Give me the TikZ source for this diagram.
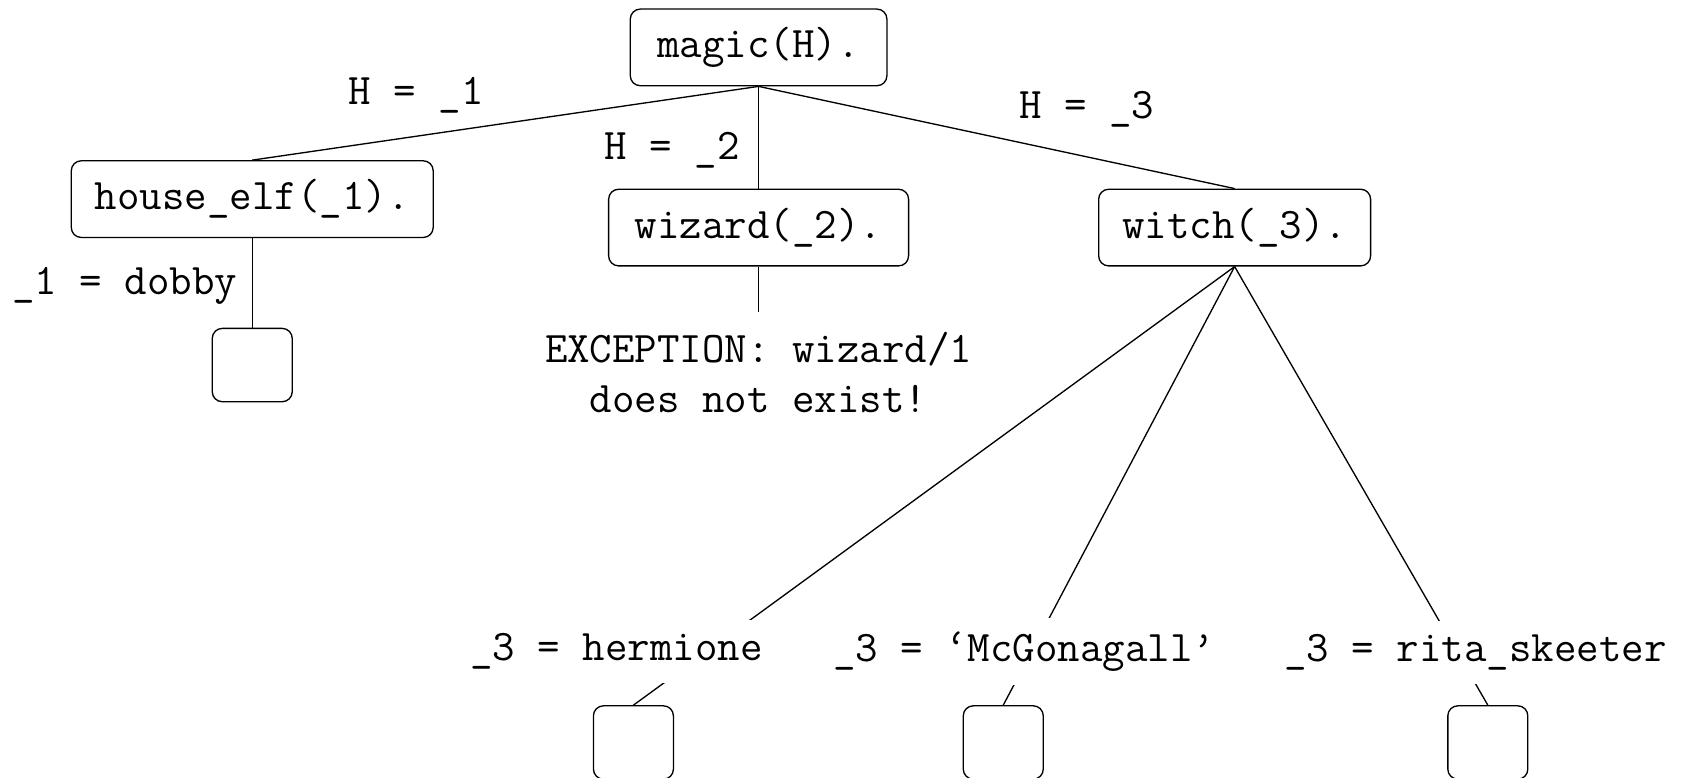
\documentclass[tikz,border=0pt]{standalone}
\usepackage{fontspec}
\usetikzlibrary{positioning}

\begin{document}
\begin{tikzpicture}[
    goal/.style={draw, rounded corners=3pt, font=\ttfamily\fontsize{13.1}{15}\selectfont,
      inner xsep=2pt, minimum height=23pt},
    leaf/.style={draw, rounded corners=3pt, minimum width=24pt, minimum height=22pt, inner sep=0pt},
    lbl/.style={font=\ttfamily\fontsize{13.1}{15}\selectfont, inner sep=2pt},
    subst/.style={lbl, fill=white, inner ysep=4pt}]
  \useasboundingbox (0,0) rectangle (17.78,8.20);
  % --- Goals ---
  \node[goal, minimum width=77pt] (magic) at (8.00,7.70) {magic(H).};
  \node[goal, minimum width=108.6pt] (elf) at (2.66,6.10) {house\_elf(\_1).};
  \node[goal, minimum width=90pt] (wizard) at (8.00,5.80) {wizard(\_2).};
  \node[goal, minimum width=81.6pt] (witch) at (13.02,5.80) {witch(\_3).};
  % --- Leaves (empty goal lists) ---
  \node[leaf] (done1) at (2.66,4.35) {};
  \node[leaf] (done2) at (6.68,0.37) {};
  \node[leaf] (done3) at (10.58,0.37) {};
  \node[leaf] (done4) at (15.69,0.37) {};
  \node[lbl, align=center, inner ysep=6pt, anchor=north] (exc) at (8.00,4.91)
    {EXCEPTION: wizard/1\\does not exist!};
  % --- Branches ---
  \draw (magic.south) -- (elf.north);
  \draw (magic.south) -- (wizard.north);
  \draw (magic.south) -- (witch.north);
  \draw (elf.south) -- (done1.north);
  \draw (wizard.south) -- (exc.north);
  \draw (witch.south) -- (done2.north);
  \draw (witch.south) -- (done3.north);
  \draw (witch.south) -- (done4.north);
  % --- Bindings ---
  \node[lbl] (b1) at (4.39,7.20) {H = \_1};
  \node[lbl] (b2) at (7.09,6.61) {H = \_2};
  \node[lbl] (b3) at (11.46,7.05) {H = \_3};
  \node[lbl, anchor=east] (b4) at (2.58,5.18) {\_1 = dobby};
  \node[subst] (b5) at (6.50,1.33) {\_3 = hermione};
  \node[subst] (b6) at (10.80,1.33) {\_3 = ‘McGonagall’};
  \node[subst] (b7) at (15.56,1.32) {\_3 = rita\_skeeter};
\end{tikzpicture}
\end{document}
